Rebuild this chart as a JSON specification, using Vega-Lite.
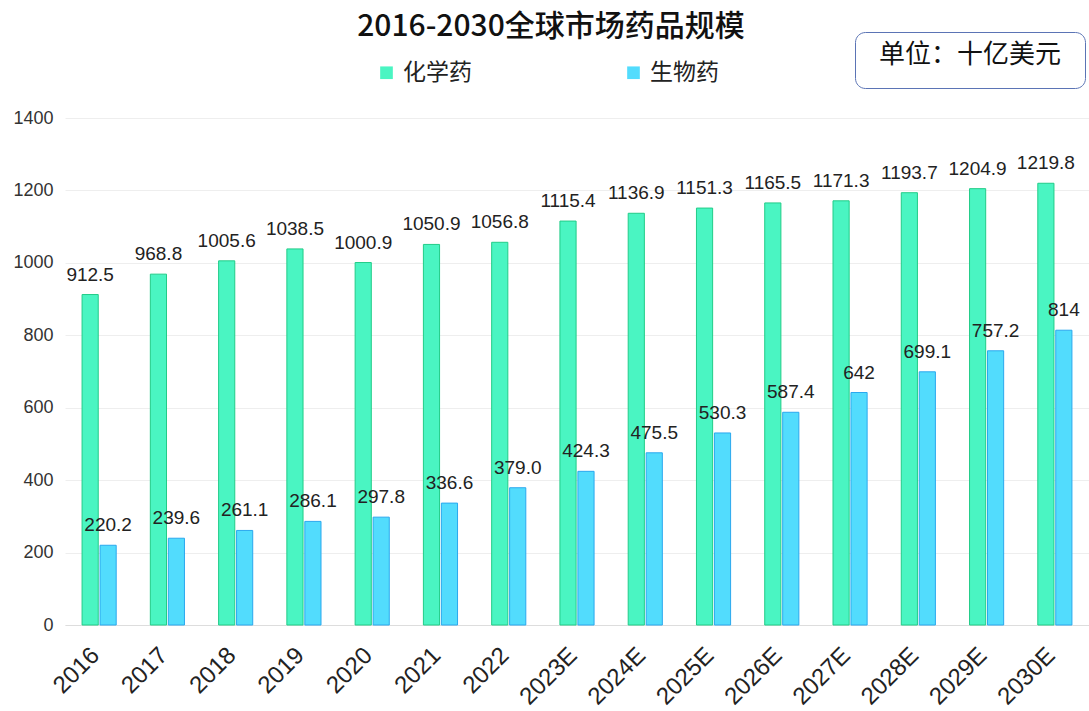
{
  "$schema": "https://vega.github.io/schema/vega-lite/v6.json",
  "autosize": {"type": "none"},
  "width": 1024,
  "height": 507,
  "padding": {"left": 65, "top": 118, "right": 0, "bottom": 86},
  "background": "white",
  "title": {
    "text": "2016-2030全球市场药品规模",
    "font": "Noto Sans CJK SC",
    "fontSize": 30,
    "fontWeight": 500,
    "color": "#111111",
    "anchor": "middle",
    "dx": -26,
    "offset": -10
  },
  "config": {
    "view": {"stroke": null},
    "font": "Noto Sans CJK SC"
  },
  "data": {
    "values": [
      {"year": "2016", "type": "化学药", "value": 912.5, "label": "912.5"},
      {"year": "2017", "type": "化学药", "value": 968.8, "label": "968.8"},
      {"year": "2018", "type": "化学药", "value": 1005.6, "label": "1005.6"},
      {"year": "2019", "type": "化学药", "value": 1038.5, "label": "1038.5"},
      {"year": "2020", "type": "化学药", "value": 1000.9, "label": "1000.9"},
      {"year": "2021", "type": "化学药", "value": 1050.9, "label": "1050.9"},
      {"year": "2022", "type": "化学药", "value": 1056.8, "label": "1056.8"},
      {"year": "2023E", "type": "化学药", "value": 1115.4, "label": "1115.4"},
      {"year": "2024E", "type": "化学药", "value": 1136.9, "label": "1136.9"},
      {"year": "2025E", "type": "化学药", "value": 1151.3, "label": "1151.3"},
      {"year": "2026E", "type": "化学药", "value": 1165.5, "label": "1165.5"},
      {"year": "2027E", "type": "化学药", "value": 1171.3, "label": "1171.3"},
      {"year": "2028E", "type": "化学药", "value": 1193.7, "label": "1193.7"},
      {"year": "2029E", "type": "化学药", "value": 1204.9, "label": "1204.9"},
      {"year": "2030E", "type": "化学药", "value": 1219.8, "label": "1219.8"},
      {"year": "2016", "type": "生物药", "value": 220.2, "label": "220.2"},
      {"year": "2017", "type": "生物药", "value": 239.6, "label": "239.6"},
      {"year": "2018", "type": "生物药", "value": 261.1, "label": "261.1"},
      {"year": "2019", "type": "生物药", "value": 286.1, "label": "286.1"},
      {"year": "2020", "type": "生物药", "value": 297.8, "label": "297.8"},
      {"year": "2021", "type": "生物药", "value": 336.6, "label": "336.6"},
      {"year": "2022", "type": "生物药", "value": 379.0, "label": "379.0"},
      {"year": "2023E", "type": "生物药", "value": 424.3, "label": "424.3"},
      {"year": "2024E", "type": "生物药", "value": 475.5, "label": "475.5"},
      {"year": "2025E", "type": "生物药", "value": 530.3, "label": "530.3"},
      {"year": "2026E", "type": "生物药", "value": 587.4, "label": "587.4"},
      {"year": "2027E", "type": "生物药", "value": 642, "label": "642"},
      {"year": "2028E", "type": "生物药", "value": 699.1, "label": "699.1"},
      {"year": "2029E", "type": "生物药", "value": 757.2, "label": "757.2"},
      {"year": "2030E", "type": "生物药", "value": 814, "label": "814"}
    ]
  },
  "encoding": {
    "x": {
      "field": "year",
      "type": "nominal",
      "sort": null,
      "scale": {"paddingInner": 0.5, "paddingOuter": 0.25},
      "axis": {
        "title": null,
        "labelAngle": -45,
        "labelFontSize": 24,
        "labelColor": "#222222",
        "labelFont": "Liberation Sans",
        "ticks": false,
        "domainColor": "#dddddd",
        "labelPadding": 18,
        "labelOffset": -12
      }
    },
    "xOffset": {"field": "type", "type": "nominal", "sort": ["化学药", "生物药"], "scale": {"paddingInner": 0.1}},
    "y": {
      "field": "value",
      "type": "quantitative",
      "scale": {"domain": [0, 1400]},
      "axis": {
        "title": null,
        "format": "d",
        "values": [0, 200, 400, 600, 800, 1000, 1200, 1400],
        "labelFontSize": 18,
        "labelColor": "#333333",
        "labelFont": "Liberation Sans",
        "ticks": false,
        "domain": false,
        "gridColor": "#eeeeee",
        "labelPadding": 12
      }
    }
  },
  "layer": [
    {
      "mark": {"type": "bar", "strokeWidth": 1},
      "encoding": {
        "color": {
          "field": "type",
          "type": "nominal",
          "sort": ["化学药", "生物药"],
          "scale": {"domain": ["化学药", "生物药"], "range": ["#4af5c2", "#52dcfd"]},
          "legend": {
            "title": null,
            "orient": "none",
            "direction": "horizontal",
            "columns": 2,
            "columnPadding": 150,
            "legendX": 310,
            "legendY": -57,
            "symbolType": "square",
            "symbolSize": 160,
            "symbolStrokeWidth": 0,
            "labelOffset": 5,
            "labelFontSize": 23,
            "labelColor": "#222222",
            "labelFont": "Noto Sans CJK SC"
          }
        },
        "stroke": {
          "field": "type",
          "type": "nominal",
          "scale": {"domain": ["化学药", "生物药"], "range": ["#22cc88", "#2aa8ee"]},
          "legend": null
        },
        "opacity": {
          "datum": "单位",
          "scale": {"range": [1]},
          "legend": {
            "title": "单位：十亿美元",
            "orient": "none",
            "legendX": 790,
            "legendY": -86,
            "titleOrient": "top",
            "titleAnchor": "middle",
            "titleFontSize": 26,
            "titleLimit": 400,
            "titleFontWeight": "normal",
            "titleColor": "#111111",
            "titleFont": "Noto Sans CJK SC",
            "titlePadding": 2,
            "labelExpr": "'MMMMMMMMMMMMMMMMMMMMMMMMMMMMMMMMMMMMMMMMMMMMMMMMMMMMMMMMMMMMMMMMMMMMMMM'",
            "labelLimit": 202,
            "labelOpacity": 0,
            "labelFont": "Liberation Sans",
            "labelFontSize": 8,
            "labelOffset": 0,
            "symbolSize": 0,
            "symbolOpacity": 0,
            "symbolStrokeWidth": 0,
            "strokeColor": "#5b74b5",
            "cornerRadius": 10,
            "fillColor": "white",
            "padding": 10
          }
        }
      }
    },
    {
      "mark": {"type": "text", "baseline": "alphabetic", "dy": -14, "fontSize": 19, "font": "Liberation Sans", "color": "#222222"},
      "encoding": {
        "text": {"field": "label", "type": "nominal"}
      }
    }
  ]
}
